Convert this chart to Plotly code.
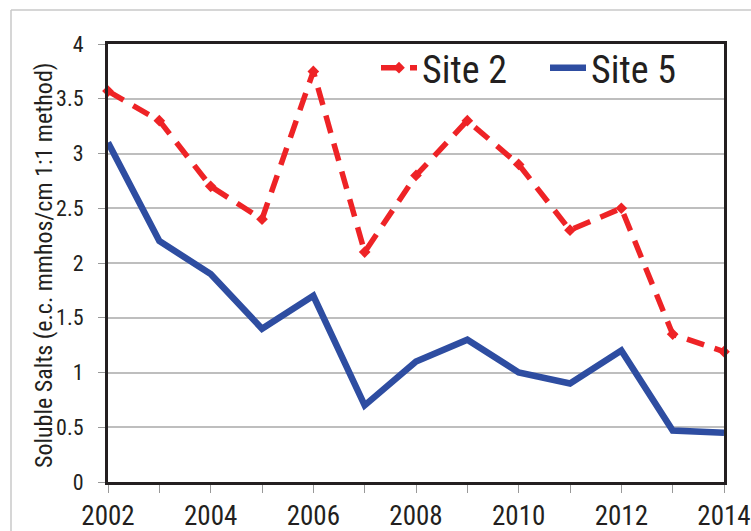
import plotly.graph_objects as go

years = [2002, 2003, 2004, 2005, 2006, 2007, 2008, 2009, 2010, 2011, 2012, 2013, 2014]
site2 = [3.57, 3.3, 2.7, 2.4, 3.75, 2.1, 2.8, 3.3, 2.9, 2.3, 2.5, 1.35, 1.19]
site5 = [3.1, 2.2, 1.9, 1.4, 1.7, 0.7, 1.1, 1.3, 1.0, 0.9, 1.2, 0.47, 0.45]

FONT = "Liberation Sans Narrow, Roboto Condensed, Arial Narrow, sans-serif"
L, R, T, B = 108, 27, 44, 49
W, H = 751, 531
PW, PH = W - L - R, H - T - B

fig = go.Figure()
fig.add_trace(go.Scatter(
    x=years, y=site2, name="Site 2", mode="lines+markers",
    line=dict(color="#EE2326", width=5.5, dash="18px,11px"),
    marker=dict(symbol="diamond", size=9, color="#EE2326"),
    cliponaxis=False,
))
fig.add_trace(go.Scatter(
    x=years, y=site5, name="Site 5", mode="lines",
    line=dict(color="#2E4DA1", width=6.5),
    cliponaxis=False,
))

fig.update_layout(
    width=W, height=H,
    margin=dict(l=L, r=R, t=T, b=B, autoexpand=False),
    paper_bgcolor="white", plot_bgcolor="white",
    font=dict(family=FONT, color="#231F20"),
    showlegend=True,
    legend=dict(
        orientation="h", x=(376 - L) / PW, xanchor="left",
        y=(H - B - 68) / PH, yanchor="middle",
        font=dict(size=38, family=FONT, color="#231F20"),
        bgcolor="rgba(0,0,0,0)", itemwidth=36, tracegroupgap=0,
        entrywidth=118,
    ),
    xaxis=dict(
        range=[2002, 2014], tickmode="linear", tick0=2002, dtick=2,
        ticks="outside", ticklen=8, tickcolor="#999999", tickwidth=1,
        minor=dict(dtick=1, ticks="outside", ticklen=8, tickcolor="#999999", tickwidth=1),
        showgrid=False, zeroline=False, automargin=False,
        showline=True, linecolor="#231F20", linewidth=3, mirror=True,
        tickfont=dict(size=27, family=FONT, color="#231F20"),
    ),
    yaxis=dict(
        range=[0, 4], tickmode="linear", tick0=0, dtick=0.5,
        ticks="outside", ticklen=7, tickcolor="#999999", tickwidth=1,
        ticklabelstandoff=10,
        showgrid=True, gridcolor="#BEBEBE", gridwidth=1.5, zeroline=False,
        automargin=False,
        showline=True, linecolor="#231F20", linewidth=3, mirror=True,
        tickfont=dict(size=22, family=FONT, color="#231F20"),
    ),
    annotations=[
        dict(text="Soluble Salts (e.c. mmhos/cm 1:1 method)",
             xref="paper", yref="paper", x=(44 - L) / PW, y=(H - B - 266) / PH,
             xanchor="center", yanchor="middle", textangle=-90, showarrow=False,
             font=dict(size=24, family=FONT, color="#231F20")),
    ],
    shapes=[
        dict(type="line", xref="paper", yref="paper",
             x0=(11 - L) / PW, x1=1.1, y0=(H - B - 10) / PH, y1=(H - B - 10) / PH,
             line=dict(color="#C8C8C8", width=1.5)),
        dict(type="line", xref="paper", yref="paper",
             x0=(11 - L) / PW, x1=(11 - L) / PW, y0=(H - B - 10) / PH, y1=-0.2,
             line=dict(color="#C8C8C8", width=1.5)),
    ],
)

fig.write_html("out.html", config={"displayModeBar": False})

# remove the browser's default page margin so the figure sits at the window origin
with open("out.html", encoding="utf-8") as f:
    html = f.read()
html = html.replace("<head>", "<head><style>html,body{margin:0;padding:0;overflow:hidden;}</style>", 1)
with open("out.html", "w", encoding="utf-8") as f:
    f.write(html)
